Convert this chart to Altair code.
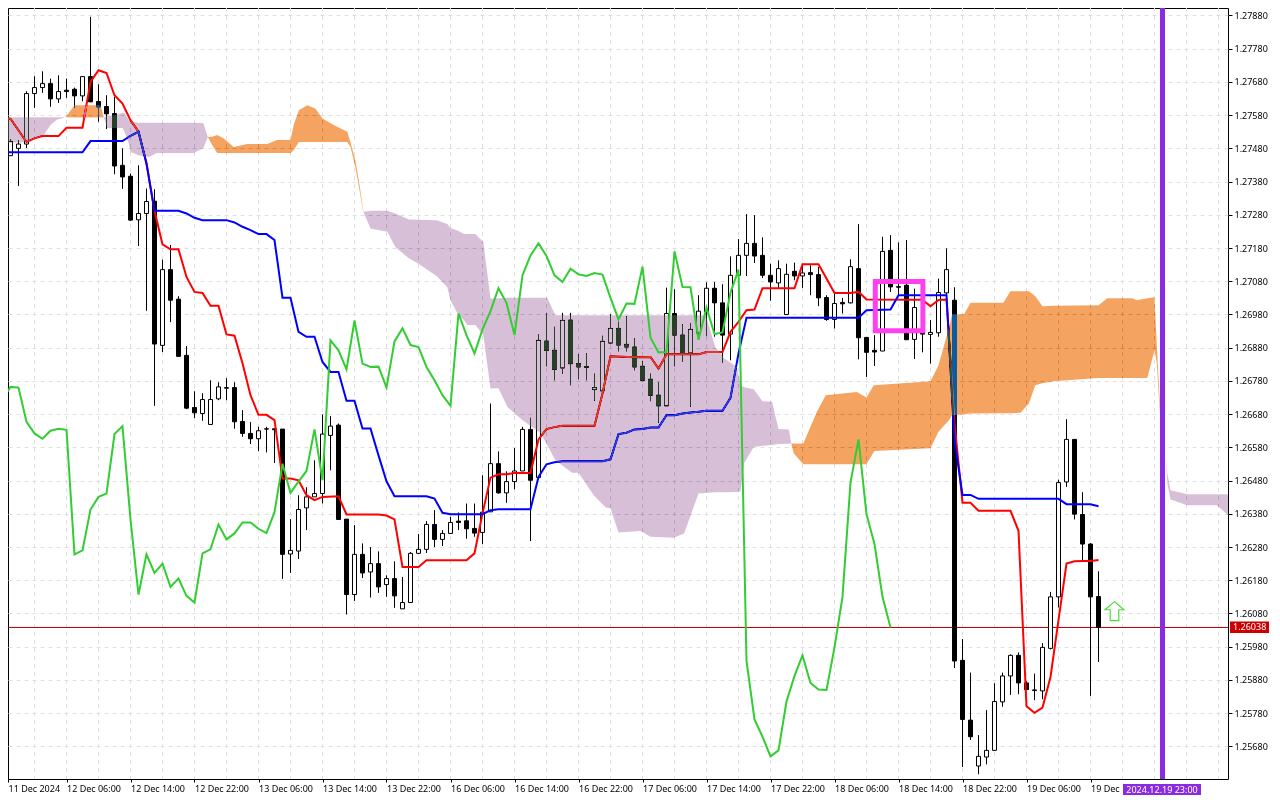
import altair as alt
import pandas as pd

# Hourly candles, prices in points (1e-5)
candles = [
(127444,127474,127444,127458),(127458,127507,127458,127501),(127480,127505,127367,127493),(127493,127652,127481,127645),
(127645,127697,127602,127663),(127663,127712,127647,127675),(127675,127690,127605,127629),(127629,127700,127617,127651),
(127655,127690,127632,127651),(127658,127663,127602,127638),(127638,127696,127622,127696),(127696,127876,127620,127620),
(127621,127673,127560,127605),(127606,127640,127538,127584),(127585,127635,127402,127427),(127429,127480,127358,127394),
(127396,127404,127262,127264),(127265,127429,127186,127284),(127284,127359,126991,127320),(127321,127357,126705,126891),
(126887,127145,126867,127115),(127115,127189,126957,127023),(127026,127035,126854,126854),(126857,126885,126695,126698),
(126700,126749,126668,126684),(126682,126743,126660,126724),(126649,126782,126649,126724),(126726,126776,126722,126762),
(126758,126788,126722,126760),(126760,126776,126636,126657),(126658,126692,126612,126622),(126622,126656,126590,126606),
(126606,126642,126569,126630),(126635,126642,126565,126636),(126636,126636,126533,126633),(126635,126635,126184,126258),
(126259,126364,126202,126270),(126268,126436,126244,126393),(126398,126460,126331,126431),(126431,126541,126431,126441),
(126441,126679,126411,126620),(126616,126674,126511,126644),(126647,126652,126363,126363),(126364,126364,126077,126137),
(126137,126346,126118,126258),(126258,126291,126187,126202),(126205,126280,126128,126230),(126230,126267,126142,126160),
(126167,126195,126130,126185),(126185,126237,126097,126133),(126094,126190,126094,126113),(126113,126265,126113,126261),
(126261,126319,126261,126273),(126273,126358,126262,126348),(126348,126391,126280,126303),(126303,126331,126283,126321),
(126321,126371,126321,126354),(126358,126384,126331,126354),(126359,126411,126305,126335),(126336,126411,126311,126322),
(126324,126496,126289,126385),(126386,126712,126386,126531),(126531,126568,126441,126443),(126443,126508,126413,126477),
(126477,126578,126454,126509),(126509,126642,126509,126634),(126634,126669,126298,126481),(126489,126920,126489,126902),
(126900,126983,126824,126872),(126872,126943,126782,126815),(126819,126985,126802,126962),(126963,126985,126767,126832),
(126832,126860,126785,126822),(126821,126863,126782,126823),(126754,126802,126720,126760),(126750,126916,126750,126899),
(126894,126981,126894,126938),(126938,126958,126869,126888),(126890,126975,126869,126882),(126882,126909,126812,126822),
(126824,126839,126779,126782),(126785,126802,126719,126737),(126737,126777,126654,126705),(126705,127061,126705,126983),
(126983,127056,126824,126918),(126918,126951,126837,126863),(126864,126953,126702,126935),(126924,127038,126915,126990),
(126988,127077,126915,127059),(127059,127078,126913,127015),(127015,127071,126834,126918),(126921,127155,126842,127098),
(127098,127207,127089,127158),(127158,127282,127096,127194),(127194,127279,127135,127156),(127158,127212,127090,127098),
(127098,127133,127021,127078),(127075,127143,127058,127118),(126980,127133,126980,127101),(127110,127136,127083,127096),
(127096,127133,127060,127105),(127106,127128,127038,127100),(127100,127123,127005,127030),(127031,127038,126961,126965),
(126965,127044,126938,127013),(127016,127030,126983,127012),(127015,127146,127013,127124),(127118,127252,126845,126910),
(126911,126911,126792,126866),(126872,126918,126825,126867),(126870,127214,126870,127170),(127173,127219,127048,127063),
(127064,127197,127038,127062),(127068,127204,126904,126904),(126905,127058,126846,127001),(126925,127035,126866,126921),
(126920,126963,126832,126926),(126925,127088,126913,127046),(127045,127179,127013,127115),(127023,127062,125916,125937),
(125939,126003,125618,125761),(125759,125902,125699,125709),(125621,125714,125596,125650),(125648,125789,125626,125668),
(125668,125870,125668,125815),(125814,125902,125799,125892),(125892,125957,125835,125954),(125954,125963,125837,125871),
(125871,125876,125851,125851),(125848,125899,125819,125850),(125847,125991,125822,125978),(125975,126145,125972,126130),
(126130,126483,126098,126474),(126476,126665,126461,126604),(126604,126604,126363,126379),(126378,126445,126240,126289),
(126289,126292,125832,126130),(126131,126207,125934,126038),
]
opens = [c[0] for c in candles]
highs = [c[1] for c in candles]
lows = [c[2] for c in candles]
closes = [c[3] for c in candles]

tenkan_i = [0,1,3,4,5,7,8,10,11,12,13,14,15,16,17,18,19,20,21,22,23,24,25,26,27,28,29,30,31,32,33,34,35,36,37,38,39,40,42,43,47,48,49,50,52,53,58,59,60,61,62,63,64,66,67,68,69,70,74,75,76,79,81,82,83,87,88,90,91,92,93,94,95,99,100,102,103,104,106,107,108,115,116,117,118,119,120,121,122,126,127,128,129,130,131,132,133,134,135,136,137]
tenkan_p = [127569,127569,127499,127510,127517,127517,127542,127542,127680,127715,127707,127640,127615,127565,127530,127435,127292,127191,127176,127176,127093,127048,127045,127006,127006,126920,126916,126833,126737,126678,126678,126662,126486,126486,126481,126436,126421,126431,126433,126378,126378,126375,126363,126220,126220,126240,126240,126261,126381,126489,126499,126499,126503,126503,126604,126635,126641,126645,126645,126742,126854,126851,126852,126817,126860,126860,126867,126867,126928,126958,126993,126995,127059,127059,127131,127131,127088,127045,127045,127048,127025,127024,127005,127024,127025,126653,126413,126413,126389,126389,126329,125801,125781,125797,125889,126060,126230,126237,126238,126238,126241]

kijun_i = [0,10,11,15,16,17,18,19,22,23,24,25,28,29,30,31,32,33,34,35,36,37,38,39,40,41,42,43,44,45,46,47,48,49,53,54,55,56,60,61,62,66,67,68,69,70,75,76,77,78,79,80,81,82,83,84,85,86,87,88,90,91,92,93,107,108,111,112,118,119,120,121,122,132,133,136,137]
kijun_p = [127468,127468,127502,127502,127518,127530,127434,127292,127292,127284,127271,127264,127264,127257,127244,127234,127222,127222,127204,127030,127030,126928,126913,126913,126837,126807,126807,126720,126720,126637,126637,126556,126478,126433,126433,126426,126383,126379,126379,126391,126394,126394,126491,126529,126535,126538,126538,126544,126620,126624,126634,126635,126640,126640,126677,126677,126682,126685,126687,126690,126690,126729,126863,126970,126970,126993,126995,127038,127038,126602,126437,126437,126425,126425,126409,126409,126403]

# Chikou span: the close, plotted 26 bars back
chikou = closes[26:]

purple_segments = [
 ([0,3,5.17,6,6.83,7.875],
  [127574,127574,127574,127574,127574,127574],
  [127495,127499,127520,127550,127567,127574]),
 ([12.67,13.1,14.1,15,15.25,15.8,16,17,18.3,19.3,23.9,25.1,25.67],
  [127573,127578,127580,127587,127586,127565,127562,127557,127557,127557,127557,127556,127514],
  [127573,127541,127541,127541,127530,127495,127469,127459,127454,127466,127466,127481,127514]),
 ([45.1,46,48.1,49.1,50.8,52,54.3,55.6,56,57,57.7,58.1,59.1,60.1,61,62,63.1,65,67.25,68.1,69.1,71.2,72,73.9,75.4,76,77,79.75,81,83.9,85.2,87,87.9,89.1,90.2,91.8,92.25,92.7,93.9,95,96.2,97,98.3,98.6],
  [127289,127292,127292,127284,127266,127265,127264,127252,127240,127231,127222,127222,127222,127198,127028,127029,127030,127030,127030,127030,126978,126978,126978,126978,126978,126978,126978,126978,126978,126978,126978,126978,126978,126882,126848,126822,126767,126761,126755,126719,126717,126635,126634,126592],
  [127289,127239,127229,127183,127149,127133,127095,127062,127023,126978,126963,126948,126948,126918,126757,126758,126702,126662,126623,126587,126541,126504,126504,126436,126399,126397,126324,126328,126311,126308,126321,126441,126443,126445,126445,126446,126448,126532,126581,126585,126587,126590,126591,126592]),
 ([145.4,145.6,146,148.1,151.8,153.18],
  [126551,126502,126451,126439,126439,126439],
  [126551,126472,126423,126406,126406,126376]),
]
orange_segments = [
 ([7.875,9,12.25,12.67],
  [127574,127610,127610,127573],
  [127574,127573,127573,127573]),
 ([25.67,26.2,26.83,27.67,28.9,30.6,33.1,34.3,36,36.4,37.04,38.1,39.1,40,41.4,43.1,43.5,44.1,44.6,45.1],
  [127514,127515,127520,127510,127484,127493,127493,127505,127505,127550,127595,127610,127600,127570,127550,127530,127498,127445,127375,127292],
  [127514,127490,127466,127466,127466,127466,127466,127466,127466,127474,127499,127499,127499,127499,127499,127499,127484,127425,127358,127286]),
 ([98.6,98.9,100.1,101.8,102.9,106.8,108,108.9,109,116,117,118.3,118.7,120.2,121,125.1,126,127.25,128.3,129.1,130,131.4,137,138.1,141.2,141.8,143.1,144,144.3,144.5,144.7],
  [126592,126592,126592,126687,126737,126747,126730,126767,126767,126779,126827,126939,126981,126981,127015,127015,127050,127050,127050,127035,127005,127006,127008,127029,127029,127023,127029,127032,126882,126790,126700],
  [126592,126562,126529,126529,126529,126529,126529,126565,126569,126577,126627,126662,126677,126680,126682,126683,126683,126684,126712,126767,126773,126779,126789,126789,126789,126789,126789,126872,126832,126750,126675]),
]

time_labels = ["11 Dec 2024","12 Dec 06:00","12 Dec 14:00","12 Dec 22:00","13 Dec 06:00","13 Dec 14:00","13 Dec 22:00",
               "16 Dec 06:00","16 Dec 14:00","16 Dec 22:00","17 Dec 06:00","17 Dec 14:00","17 Dec 22:00","18 Dec 06:00",
               "18 Dec 14:00","18 Dec 22:00","19 Dec 06:00","19 Dec"]
price_ticks = [round(1.2568 + 0.001 * k, 4) for k in range(23)]
last_price = 1.26038
marker_bar = 145
marker_label = "2024.12.19 23:00"
box_x = [109.1, 115.05]
box_price = [1.27079, 1.26931]
arrow_x, arrow_price = 139, 1.26087

FONT = "Noto Sans"
FS = 9
X0 = 0.6875
XS = alt.Scale(domain=[X0, X0 + 152.5], nice=False, zero=False, padding=0)
YS = alt.Scale(domain=[1.2558181, 1.2790252], nice=False, zero=False, padding=0)
AX = alt.Axis(
    orient="bottom", title=None, values=[X0] + [8 * k for k in range(1, 18)], tickSize=3, tickColor="black",
    domain=False, grid=False, labelAlign="left", labelBaseline="middle", labelPadding=6, labelOverlap=False,
    labelFlush=False, labelBound=False, labelFont=FONT, labelFontSize=FS, labelColor="black",
    labelExpr="[" + ",".join(f"'{t}'" for t in time_labels) + "][round(datum.value/8)]")
AY = alt.Axis(
    orient="right", title=None, values=price_ticks, format=".5f", tickSize=4, tickColor="black", domain=False,
    grid=True, gridColor="#e0e0e0", gridDash=[4, 4], gridWidth=1, labelPadding=2, labelOverlap=False, labelBound=False,
    labelFont=FONT, labelFontSize=FS, labelColor="black", labelFlush=False)
def X(f="x", **k): return alt.X(f"{f}:Q", scale=XS, axis=AX, **k)
def Y(f="p", **k): return alt.Y(f"{f}:Q", scale=YS, axis=AY, **k)

df = pd.DataFrame({"x": range(len(candles)),
                   "o": [v / 1e5 for v in opens], "h": [v / 1e5 for v in highs],
                   "l": [v / 1e5 for v in lows], "c": [v / 1e5 for v in closes]})
df["top"] = df[["o", "c"]].max(axis=1)
df["bot"] = df[["o", "c"]].min(axis=1)
up = df[df.c >= df.o]
down = df[df.c < df.o]

def cloud_frame(segs):
    rows = []
    for s, (xs, t, b) in enumerate(segs):
        rows += [{"seg": s, "x": a, "t": u / 1e5, "b": v / 1e5} for a, u, v in zip(xs, t, b)]
    return pd.DataFrame(rows)

def cloud(segs, colour):
    return alt.Chart(cloud_frame(segs)).mark_area(fill=colour, blend="difference", orient="vertical",
                                                  interpolate="linear").encode(
        x=X(), y=Y("t", stack=None), y2=alt.Y2("b:Q"), detail="seg:N")

def line(xs, ps, colour):
    d = pd.DataFrame({"x": xs, "p": [v / 1e5 for v in ps]})
    return alt.Chart(d).mark_line(color=colour, strokeWidth=2, clip=True, interpolate="linear").encode(x=X(), y=Y())

vgrid = alt.Chart(pd.DataFrame({"x": [4 * k for k in range(1, 39)]})).mark_rule(
    color="#e0e0e0", strokeDash=[4, 4], strokeWidth=1).encode(x=X())

hline = alt.Chart(pd.DataFrame({"p": [last_price]})).mark_rule(color="#b00000", strokeWidth=1).encode(y=Y())

wicks = alt.Chart(df).mark_rule(color="black", strokeWidth=1, clip=True).encode(x=X(), y=Y("h"), y2=alt.Y2("l:Q"))
bars_up = alt.Chart(up).mark_bar(size=4, fill="white", stroke="black", strokeWidth=1, clip=True).encode(
    x=X(), y=Y("top", stack=None), y2=alt.Y2("bot:Q"))
bars_down = alt.Chart(down).mark_bar(size=4, fill="black", stroke="black", strokeWidth=1, clip=True).encode(
    x=X(), y=Y("top", stack=None), y2=alt.Y2("bot:Q"))

red = line(tenkan_i, tenkan_p, "#ff0000")
blue = line(kijun_i, kijun_p, "#0000ff")
green = line(list(range(len(chikou))), chikou, "#32cd32")

purple_cloud = cloud(purple_segments, "#274027")
orange_cloud = cloud(orange_segments, "#0b5b9f")

box = alt.Chart(pd.DataFrame({"x": [box_x[0]], "x2": [box_x[1]], "p": [box_price[0]], "p2": [box_price[1]]})).mark_rect(
    fillOpacity=0, stroke="#ff40ee", strokeWidth=5).encode(x=X(), x2=alt.X2("x2:Q"), y=Y(), y2=alt.Y2("p2:Q"))

vmark = alt.Chart(pd.DataFrame({"x": [marker_bar]})).mark_rule(color="#8a2be2", strokeWidth=5).encode(x=X())

arrow = alt.Chart(pd.DataFrame({"x": [arrow_x], "p": [arrow_price]})).mark_point(
    shape="M0,-1 L1,-0.15 L0.45,-0.15 L0.45,1 L-0.45,1 L-0.45,-0.15 L-1,-0.15 Z",
    size=361, fill="white", fillOpacity=1, stroke="#4fdc3c", strokeWidth=1.2, opacity=1).encode(x=X(), y=Y())

tag_rect = alt.Chart(pd.DataFrame({"p": [last_price + 0.00018], "p2": [last_price - 0.00017]})).mark_rect(color="#cc0000").encode(
    x=alt.value(1222), x2=alt.value(1261), y=Y(), y2=alt.Y2("p2:Q"))
tag_text = alt.Chart(pd.DataFrame({"p": [last_price], "t": [f"{last_price:.5f}"]})).mark_text(
    color="white", font=FONT, fontSize=FS, align="left", baseline="middle").encode(x=alt.value(1225), y=Y(), text="t:N")
time_rect = alt.Chart(pd.DataFrame({"t": [marker_label]})).mark_rect(color="#8a2be2").encode(
    x=alt.value(1115), x2=alt.value(1193), y=alt.value(776), y2=alt.value(787))
time_text = alt.Chart(pd.DataFrame({"t": [marker_label]})).mark_text(
    color="white", font=FONT, fontSize=FS, align="center", baseline="middle").encode(
    x=alt.value(1154), y=alt.value(781.5), text="t:N")

chart = alt.layer(vgrid, hline, wicks, bars_up, bars_down, red, blue, purple_cloud, orange_cloud, green,
                  box, vmark, arrow, tag_rect, tag_text, time_rect, time_text).properties(
    width=1220, height=771, background="white",
    autosize=alt.AutoSizeParams(type="none"),
    padding={"left": 0, "top": 0, "right": 44, "bottom": 16},
).configure_view(stroke="black", strokeWidth=1)

chart.save("out.html", embed_options={"renderer": "svg", "actions": False})
